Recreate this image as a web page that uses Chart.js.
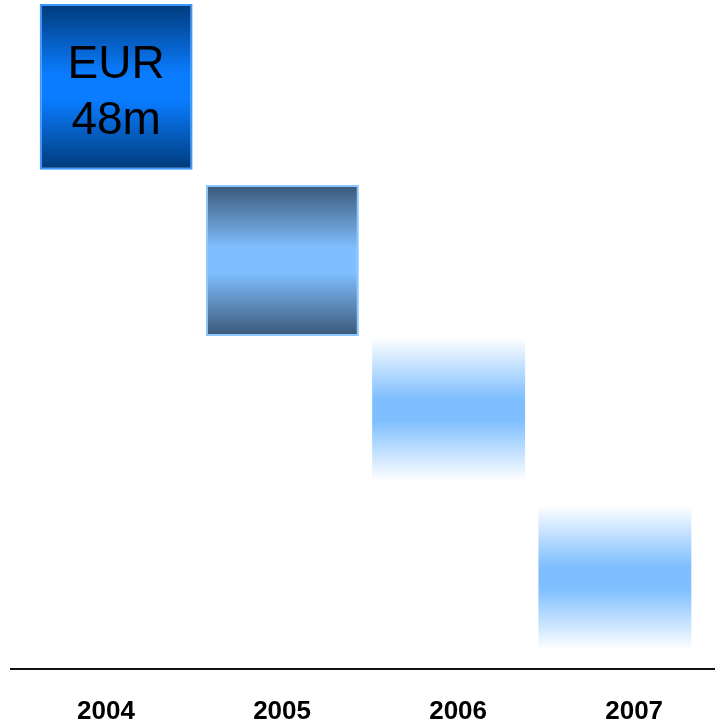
<!DOCTYPE html>
<html>
<head>
<meta charset="utf-8">
<script src="https://cdn.jsdelivr.net/npm/chart.js"></script>
<style>
  html, body { margin: 0; padding: 0; background: #fff; }
  #wrap { width: 715px; height: 722px; }
</style>
</head>
<body>
<div id="wrap"><canvas id="chart"></canvas></div>
<script>
const years = ["2004", "2005", "2006", "2007"];
const barStart = [74.6, 49.7, 28.0, 2.7];
const barEnd = [99.4, 72.3, 49.4, 24.4];
const barLabel = ["EUR", "48m"];

// edge / middle colours for each bar's vertical gradient
const edgeColors = ["#003a7a", "#3a5878", "#ffffff", "#ffffff"];
const midColors = ["#0a7cff", "#80bfff", "#80bfff", "#80bfff"];
const borderColors = ["#3a97ff", "#8cc6ff", "rgba(0,0,0,0)", "rgba(0,0,0,0)"];

function barGradient(ctx) {
  const chart = ctx.chart;
  if (!chart.chartArea) return midColors[ctx.dataIndex];
  const y = chart.scales.y;
  const i = ctx.dataIndex;
  const top = y.getPixelForValue(barEnd[i]);
  const bottom = y.getPixelForValue(barStart[i]);
  const g = chart.ctx.createLinearGradient(0, top, 0, bottom);
  g.addColorStop(0, edgeColors[i]);
  g.addColorStop(0.42, midColors[i]);
  g.addColorStop(0.58, midColors[i]);
  g.addColorStop(1, edgeColors[i]);
  return g;
}

const extras = {
  id: "extras",
  afterDraw(chart) {
    const c = chart.ctx;
    const area = chart.chartArea;
    c.save();
    // baseline running almost full width
    c.strokeStyle = "#111";
    c.lineWidth = 2;
    c.beginPath();
    c.moveTo(10, area.bottom + 1);
    c.lineTo(715, area.bottom + 1);
    c.stroke();

    // label inside the first bar
    const bar = chart.getDatasetMeta(0).data[0];
    const mid = (bar.y + bar.base) / 2;
    c.fillStyle = "#000";
    c.font = "46px 'Liberation Sans', Arial, sans-serif";
    c.textAlign = "center";
    c.textBaseline = "middle";
    c.fillText(barLabel[0], bar.x, mid - 22);
    c.fillText(barLabel[1], bar.x, mid + 34);
    c.restore();
  }
};

new Chart(document.getElementById("chart"), {
  type: "bar",
  data: {
    labels: years,
    datasets: [{
      data: years.map((_, i) => [barStart[i], barEnd[i]]),
      backgroundColor: barGradient,
      borderColor: borderColors,
      borderWidth: [2, 2, 0, 0],
      borderSkipped: false,
      categoryPercentage: 1,
      barPercentage: 0.92
    }]
  },
  options: {
    responsive: true,
    maintainAspectRatio: false,
    animation: false,
    layout: { padding: { left: 33, right: 17, top: 0, bottom: 0 } },
    plugins: {
      legend: { display: false },
      tooltip: { enabled: false }
    },
    scales: {
      x: { display: false },
      // year labels sit on a slightly wider grid than the bars
      years: {
        type: "linear",
        position: "bottom",
        offset: false,
        min: -0.4147,
        max: 3.3626,
        grid: { display: false, drawTicks: false },
        border: { display: false },
        afterFit(scale) { scale.height = 54; },
        afterBuildTicks(scale) { scale.ticks = years.map((_, i) => ({ value: i })); },
        ticks: {
          color: "#000",
          padding: 28,
          callback: (v) => years[v],
          font: { family: "'Liberation Sans', Arial, sans-serif", size: 26, weight: "bold" }
        }
      },
      y: {
        display: false,
        min: 0,
        max: 100
      }
    }
  },
  plugins: [extras]
});
</script>
</body>
</html>
